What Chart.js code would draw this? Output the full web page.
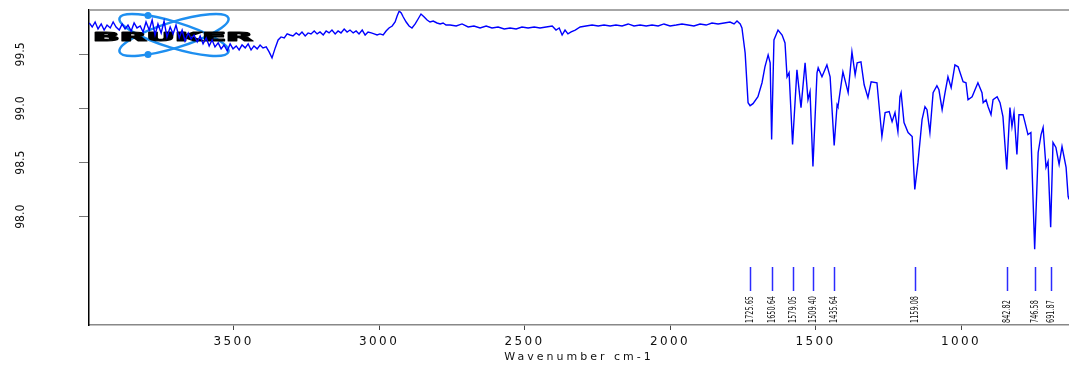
<!DOCTYPE html>
<html>
<head>
<meta charset="utf-8">
<script src="https://cdn.jsdelivr.net/npm/chart.js@4.4.1/dist/chart.umd.min.js"></script>
<style>
  html, body { margin: 0; padding: 0; background: #fff; }
  #wrap { width: 1069px; height: 365px; position: relative; }
</style>
</head>
<body>
<div id="wrap"><canvas id="irChart"></canvas></div>
<script>
// IR spectrum, wavenumber (cm-1) vs transmittance
const wavenumbers = [
  3996, 3986, 3976, 3966, 3955, 3945, 3935, 3924, 3914, 3904,
  3893, 3883, 3873, 3863, 3852, 3842, 3832, 3821, 3811, 3801,
  3790, 3780, 3770, 3760, 3749, 3739, 3729, 3718, 3708, 3698,
  3687, 3677, 3667, 3656, 3646, 3636, 3625, 3615, 3605, 3594,
  3584, 3574, 3564, 3553, 3543, 3533, 3522, 3512, 3502, 3491,
  3481, 3471, 3460, 3450, 3440, 3430, 3419, 3409, 3399, 3388,
  3378, 3368, 3357, 3347, 3337, 3326, 3316, 3306, 3296, 3285,
  3275, 3265, 3254, 3244, 3234, 3223, 3213, 3203, 3192, 3182,
  3172, 3162, 3151, 3141, 3131, 3120, 3110, 3100, 3089, 3079,
  3069, 3058, 3048, 3038, 3027, 3017, 3007, 2997, 2986, 2976,
  2966, 2955, 2945, 2938, 2931, 2924, 2917, 2907, 2897, 2887,
  2876, 2866, 2856, 2845, 2835, 2825, 2814, 2801, 2790, 2780,
  2770, 2756, 2735, 2715, 2694, 2674, 2653, 2632, 2612, 2591,
  2570, 2550, 2529, 2509, 2488, 2467, 2447, 2426, 2405, 2392,
  2381, 2371, 2361, 2351, 2340, 2326, 2309, 2289, 2268, 2247,
  2227, 2206, 2186, 2165, 2144, 2124, 2103, 2082, 2062, 2041,
  2021, 2000, 1979, 1959, 1938, 1918, 1897, 1876, 1856, 1835,
  1814, 1794, 1780, 1770, 1759, 1753, 1742, 1732, 1725, 1715,
  1698, 1684, 1674, 1663, 1656, 1651, 1643, 1629, 1615, 1605,
  1598, 1591, 1579, 1564, 1550, 1536, 1526, 1519, 1509, 1495,
  1491, 1478, 1461, 1450, 1436, 1426, 1423, 1406, 1388, 1375,
  1364, 1357, 1344, 1333, 1320, 1309, 1289, 1272, 1261, 1247,
  1237, 1227, 1217, 1210, 1206, 1196, 1182, 1168, 1159, 1148,
  1134, 1124, 1117, 1107, 1096, 1083, 1076, 1065, 1055, 1045,
  1034, 1021, 1010, 993, 983, 976, 962, 952, 942, 928,
  924, 914, 907, 897, 890, 876, 866, 856, 843, 832,
  825, 818, 808, 801, 787, 780, 770, 760, 747, 735,
  725, 718, 708, 701, 692, 684, 674, 663, 653, 639,
  632, 629
];
const transmittance = [
  99.790, 99.753, 99.799, 99.735, 99.781, 99.725, 99.771, 99.744, 99.799, 99.753,
  99.725, 99.781, 99.735, 99.771, 99.716, 99.790, 99.744, 99.762, 99.707, 99.799,
  99.725, 99.817, 99.679, 99.781, 99.698, 99.808, 99.661, 99.753, 99.689, 99.771,
  99.652, 99.725, 99.624, 99.698, 99.643, 99.679, 99.615, 99.670, 99.597, 99.652,
  99.578, 99.633, 99.569, 99.606, 99.551, 99.587, 99.532, 99.597, 99.551, 99.578,
  99.541, 99.587, 99.560, 99.597, 99.541, 99.578, 99.551, 99.587, 99.560, 99.569,
  99.523, 99.468, 99.560, 99.633, 99.661, 99.652, 99.689, 99.679, 99.670, 99.698,
  99.679, 99.707, 99.670, 99.698, 99.689, 99.716, 99.689, 99.707, 99.679, 99.716,
  99.698, 99.725, 99.689, 99.716, 99.698, 99.735, 99.707, 99.725, 99.698, 99.716,
  99.689, 99.725, 99.679, 99.707, 99.698, 99.689, 99.679, 99.689, 99.679, 99.716,
  99.744, 99.762, 99.799, 99.854, 99.900, 99.882, 99.845, 99.799, 99.762, 99.744,
  99.781, 99.827, 99.873, 99.845, 99.817, 99.799, 99.808, 99.790, 99.781, 99.790,
  99.771, 99.771, 99.762, 99.781, 99.753, 99.762, 99.744, 99.762, 99.744, 99.753,
  99.735, 99.744, 99.735, 99.753, 99.744, 99.753, 99.744, 99.753, 99.762, 99.725,
  99.744, 99.679, 99.725, 99.689, 99.707, 99.725, 99.753, 99.762, 99.771, 99.762,
  99.771, 99.762, 99.771, 99.762, 99.781, 99.762, 99.771, 99.762, 99.771, 99.762,
  99.781, 99.762, 99.771, 99.781, 99.771, 99.762, 99.781, 99.771, 99.790, 99.781,
  99.790, 99.799, 99.781, 99.808, 99.781, 99.744, 99.514, 99.054, 99.026, 99.045,
  99.109, 99.238, 99.385, 99.495, 99.422, 98.713, 99.633, 99.725, 99.679, 99.606,
  99.293, 99.330, 98.667, 99.357, 99.008, 99.422, 99.081, 99.155, 98.465, 99.330,
  99.376, 99.293, 99.403, 99.293, 98.658, 99.035, 99.017, 99.339, 99.146, 99.523,
  99.311, 99.422, 99.431, 99.219, 99.100, 99.247, 99.238, 98.741, 98.962, 98.971,
  98.879, 98.962, 98.787, 99.109, 99.146, 98.870, 98.778, 98.741, 98.253, 98.502,
  98.897, 99.017, 98.989, 98.778, 99.146, 99.210, 99.173, 98.989, 99.146, 99.293,
  99.192, 99.403, 99.385, 99.247, 99.238, 99.081, 99.109, 99.173, 99.238, 99.146,
  99.054, 99.081, 99.017, 98.943, 99.081, 99.109, 99.054, 98.925, 98.437, 99.008,
  98.833, 98.962, 98.575, 98.943, 98.943, 98.870, 98.759, 98.778, 97.701, 98.594,
  98.759, 98.824, 98.456, 98.511, 97.904, 98.686, 98.640, 98.483, 98.649, 98.456,
  98.189, 98.160
];

// picked peaks
const peakPositions = [1725.65, 1650.64, 1579.05, 1509.40, 1435.64, 1159.08, 842.82, 746.58, 691.87];
const peakLabels = ['1725.65', '1650.64', '1579.05', '1509.40', '1435.64', '1159.08', '842.82', '746.58', '691.87'];

const xTicks = [3500, 3000, 2500, 2000, 1500, 1000];
const yTicks = [98.0, 98.5, 99.0, 99.5];

const narrowFont = "'Liberation Sans Narrow', 'DejaVu Sans Condensed', 'Arial Narrow', sans-serif";
const wideFont = "'DejaVu Sans', 'Liberation Sans', sans-serif";

const spectrum = wavenumbers.map((w, i) => ({ x: w, y: transmittance[i] }));

// logo behind the trace
const brukerLogo = {
    id: 'brukerLogo',
    beforeDatasetsDraw(chart) {
        const { ctx, chartArea: a } = chart;
        const cx = a.left + 85, cy = a.top + 25;
        ctx.save();
        ctx.strokeStyle = '#1e8ff0';
        ctx.fillStyle = '#1e8ff0';
        ctx.lineWidth = 2.5;
        [0.3, -0.3].forEach(r => {
            ctx.beginPath();
            ctx.ellipse(cx, cy, 57, 13, r, 0, Math.PI * 2);
            ctx.stroke();
        });
        [[cx - 26, cy - 19.5], [cx - 26, cy + 19.5]].forEach(([x, y]) => {
            ctx.beginPath();
            ctx.arc(x, y, 3.5, 0, Math.PI * 2);
            ctx.fill();
        });
        ctx.fillStyle = '#000';
        ctx.strokeStyle = '#000';
        ctx.lineWidth = 1.2;
        ctx.lineJoin = 'round';
        ctx.font = "bold 13px 'DejaVu Sans', sans-serif";
        ctx.textBaseline = 'alphabetic';
        const w = ctx.measureText('BRUKER').width;
        ctx.translate(a.left + 4, a.top + 31);
        ctx.scale(160 / w, 1);
        ctx.fillText('BRUKER', 0, 0);
        ctx.strokeText('BRUKER', 0, 0);
        ctx.restore();
    }
};

// grey line on top of the plot
const topFrame = {
    id: 'topFrame',
    afterDraw(chart) {
        const { ctx, chartArea: a } = chart;
        ctx.save();
        ctx.strokeStyle = '#888';
        ctx.lineWidth = 1.5;
        ctx.beginPath();
        ctx.moveTo(a.left, a.top);
        ctx.lineTo(a.right, a.top);
        ctx.stroke();
        ctx.restore();
    }
};

// peak markers and their labels
const peakMarks = {
    id: 'peakMarks',
    afterDatasetsDraw(chart) {
        const { ctx, chartArea: a, scales: { x } } = chart;
        ctx.save();
        ctx.font = '11px ' + narrowFont;
        const squeeze = Math.min(1, 27 / ctx.measureText('1725.65').width);
        peakPositions.forEach((p, i) => {
            const px = Math.round(x.getPixelForValue(p)) + 0.5;
            ctx.strokeStyle = '#2b2bff';
            ctx.lineWidth = 1.5;
            ctx.beginPath();
            ctx.moveTo(px, a.bottom - 58);
            ctx.lineTo(px, a.bottom - 34);
            ctx.stroke();
            ctx.save();
            ctx.translate(px, a.bottom - 2);
            ctx.rotate(-Math.PI / 2);
            ctx.scale(squeeze, 1);
            ctx.fillStyle = '#111';
            ctx.textAlign = 'left';
            ctx.textBaseline = 'middle';
            ctx.fillText(peakLabels[i], 0, 0);
            ctx.restore();
        });
        ctx.restore();
    }
};

// the x axis text is drawn stretched out
const spacedXAxis = {
    id: 'spacedXAxis',
    beforeDraw(chart) {
        const sc = chart.scales.x;
        if (sc._spaced) return;
        const drawLabels = sc.drawLabels, drawTitle = sc.drawTitle;
        sc.drawLabels = function (area) {
            this.ctx.save();
            this.ctx.letterSpacing = '2.4px';
            drawLabels.call(this, area);
            this.ctx.restore();
        };
        sc.drawTitle = function () {
            this.ctx.save();
            this.ctx.letterSpacing = '3px';
            drawTitle.call(this);
            this.ctx.restore();
        };
        sc._spaced = true;
    }
};

const ctx = document.getElementById('irChart').getContext('2d');
const irChart = new Chart(ctx, {
    type: 'line',
    data: {
        datasets: [{
            label: 'Transmittance',
            data: spectrum,
            borderColor: '#0000ff',
            borderWidth: 1.4,
            pointRadius: 0,
            tension: 0,
            fill: false
        }]
    },
    options: {
        responsive: true,
        maintainAspectRatio: false,
        animation: false,
        layout: { padding: { top: 10, right: 0, bottom: 0, left: 0 } },
        scales: {
            x: {
                type: 'linear',
                reverse: true,
                min: 629,
                max: 3997,
                afterBuildTicks: s => { s.ticks = xTicks.map(v => ({ value: v })); },
                afterFit: s => { s.height = 40; s.paddingLeft = 0; s.paddingRight = 0; },
                grid: { drawOnChartArea: false, drawTicks: true, tickLength: 5, color: '#444' },
                border: { color: '#888', width: 1.5 },
                ticks: {
                    autoSkip: false,
                    maxRotation: 0,
                    padding: 5,
                    color: '#111',
                    font: { family: wideFont, size: 12 },
                    callback: v => String(v)
                },
                title: {
                    display: true,
                    text: 'Wavenumber cm-1',
                    color: '#111',
                    font: { family: wideFont, size: 11 },
                    padding: { top: 0, bottom: 1 }
                }
            },
            y: {
                min: 97.0,
                max: 99.91,
                afterBuildTicks: s => { s.ticks = yTicks.map(v => ({ value: v })); },
                afterFit: s => { s.width = 89; s.paddingTop = 0; s.paddingBottom = 0; },
                grid: { drawOnChartArea: false, drawTicks: true, tickLength: 10, color: '#777' },
                border: { color: '#000', width: 1.5 },
                ticks: {
                    autoSkip: false,
                    minRotation: 90,
                    maxRotation: 90,
                    crossAlign: 'center',
                    padding: 46,
                    color: '#111',
                    font: { family: narrowFont, size: 12 },
                    callback: v => v.toFixed(1)
                }
            }
        },
        plugins: {
            legend: { display: false },
            tooltip: { enabled: false }
        }
    },
    plugins: [brukerLogo, topFrame, peakMarks, spacedXAxis]
});
</script>
</body>
</html>
